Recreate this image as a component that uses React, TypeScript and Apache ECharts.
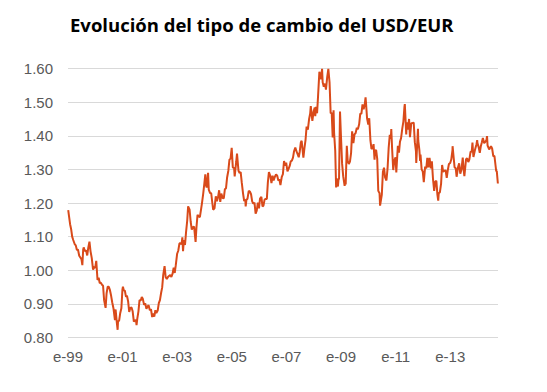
import React, { useEffect, useRef } from "react";
import * as echarts from "echarts";

const titleText = "Evolución del tipo de cambio del USD/EUR";
const yTicks = [0.8, 0.9, 1.0, 1.1, 1.2, 1.3, 1.4, 1.5, 1.6];
const xTickLabels = ["e-99", "e-01", "e-03", "e-05", "e-07", "e-09", "e-11", "e-13", "e-15"];

const dates1999_2002 = [
  "1999-01-04","1999-01-15","1999-01-29","1999-02-12","1999-02-26","1999-03-12","1999-03-31","1999-04-15","1999-04-30","1999-05-14","1999-05-31","1999-06-15","1999-06-30","1999-07-12","1999-07-23","1999-07-30","1999-08-13","1999-08-31","1999-09-15","1999-09-30","1999-10-15","1999-10-29","1999-11-15","1999-11-30","1999-12-03","1999-12-15","1999-12-31",
  "2000-01-14","2000-01-31","2000-02-15","2000-02-29","2000-03-15","2000-03-31","2000-04-14","2000-04-28","2000-05-18","2000-05-31","2000-06-15","2000-06-30","2000-07-14","2000-07-31","2000-08-15","2000-08-31","2000-09-20","2000-09-22","2000-09-29","2000-10-13","2000-10-26","2000-10-31","2000-11-15","2000-11-30","2000-12-15","2000-12-29",
  "2001-01-05","2001-01-15","2001-01-31","2001-02-15","2001-02-28","2001-03-15","2001-03-30","2001-04-13","2001-04-30","2001-05-15","2001-05-31","2001-06-15","2001-06-29","2001-07-06","2001-07-16","2001-07-31","2001-08-15","2001-08-31","2001-09-14","2001-09-28","2001-10-15","2001-10-31","2001-11-15","2001-11-30","2001-12-14","2001-12-31",
  "2002-01-15","2002-01-31","2002-02-15","2002-02-28","2002-03-15","2002-03-28","2002-04-15","2002-04-30","2002-05-15","2002-05-31","2002-06-14","2002-06-28","2002-07-16","2002-07-31","2002-08-15","2002-08-30","2002-09-13","2002-09-30","2002-10-15","2002-10-31","2002-11-15","2002-11-29","2002-12-13","2002-12-31",
];
const rates1999_2002 = [
  1.179,1.160,1.137,1.122,1.100,1.090,1.078,1.074,1.060,1.062,1.043,1.038,1.033,1.015,1.061,1.068,1.057,1.059,1.044,1.068,1.085,1.057,1.036,1.006,1.002,1.010,1.007,
  1.028,0.971,0.978,0.962,0.963,0.957,0.954,0.911,0.888,0.931,0.951,0.951,0.942,0.924,0.904,0.887,0.852,0.880,0.883,0.849,0.823,0.848,0.850,0.873,0.887,0.942,
  0.951,0.941,0.939,0.921,0.924,0.908,0.876,0.888,0.889,0.878,0.847,0.852,0.850,0.837,0.856,0.877,0.911,0.910,0.920,0.915,0.897,0.901,0.885,0.892,0.896,0.881,
  0.884,0.861,0.871,0.862,0.881,0.873,0.880,0.902,0.911,0.933,0.949,0.986,1.012,0.979,0.974,0.980,0.983,0.986,0.980,0.990,1.008,0.992,1.015,1.049,
];

const dates2003_2006 = [
  "2003-01-15","2003-01-31","2003-02-14","2003-02-28","2003-03-11","2003-03-20","2003-03-31","2003-04-15","2003-04-30","2003-05-15","2003-05-27","2003-06-16","2003-06-30","2003-07-15","2003-07-31","2003-08-15","2003-08-29","2003-09-04","2003-09-15","2003-09-30","2003-10-15","2003-10-31","2003-11-14","2003-11-28","2003-12-15","2003-12-31",
  "2004-01-12","2004-01-22","2004-01-30","2004-02-18","2004-02-27","2004-03-15","2004-03-31","2004-04-15","2004-04-26","2004-05-14","2004-05-31","2004-06-15","2004-06-30","2004-07-15","2004-07-30","2004-08-13","2004-08-31","2004-09-15","2004-09-30","2004-10-15","2004-10-29","2004-11-15","2004-11-30","2004-12-15","2004-12-30",
  "2005-01-14","2005-01-31","2005-02-08","2005-02-28","2005-03-11","2005-03-31","2005-04-15","2005-04-29","2005-05-13","2005-05-31","2005-06-15","2005-06-30","2005-07-05","2005-07-15","2005-07-29","2005-08-15","2005-08-31","2005-09-15","2005-09-30","2005-10-14","2005-10-31","2005-11-15","2005-11-30","2005-12-15","2005-12-30",
  "2006-01-13","2006-01-31","2006-02-15","2006-02-28","2006-03-15","2006-03-31","2006-04-14","2006-04-28","2006-05-12","2006-05-31","2006-06-15","2006-06-30","2006-07-14","2006-07-31","2006-08-15","2006-08-31","2006-09-15","2006-09-29","2006-10-13","2006-10-31","2006-11-15","2006-11-30","2006-12-15","2006-12-29",
];
const rates2003_2006 = [
  1.058,1.080,1.080,1.077,1.098,1.057,1.090,1.075,1.115,1.148,1.190,1.180,1.145,1.121,1.128,1.130,1.097,1.084,1.126,1.165,1.160,1.158,1.178,1.199,1.228,1.260,
  1.285,1.252,1.246,1.290,1.240,1.230,1.229,1.200,1.180,1.184,1.220,1.205,1.217,1.238,1.203,1.228,1.215,1.214,1.241,1.244,1.275,1.296,1.329,1.332,1.364,
  1.306,1.304,1.279,1.322,1.347,1.296,1.289,1.292,1.262,1.228,1.206,1.210,1.190,1.210,1.212,1.236,1.234,1.226,1.205,1.198,1.201,1.168,1.177,1.201,1.184,
  1.213,1.218,1.190,1.192,1.210,1.212,1.212,1.262,1.292,1.280,1.259,1.281,1.267,1.278,1.285,1.281,1.267,1.270,1.253,1.278,1.286,1.325,1.311,1.320,
];

const dates2007_2010 = [
  "2007-01-15","2007-01-31","2007-02-15","2007-02-28","2007-03-15","2007-03-30","2007-04-13","2007-04-30","2007-05-15","2007-05-31","2007-06-15","2007-06-29","2007-07-13","2007-07-24","2007-08-16","2007-08-31","2007-09-14","2007-09-28","2007-10-15","2007-10-31","2007-11-15","2007-11-23","2007-12-14","2007-12-31",
  "2008-01-15","2008-01-22","2008-01-31","2008-02-15","2008-02-29","2008-03-17","2008-03-31","2008-04-09","2008-04-22","2008-04-30","2008-05-15","2008-05-30","2008-06-13","2008-06-30","2008-07-15","2008-07-31","2008-08-15","2008-08-29","2008-09-11","2008-09-23","2008-09-30","2008-10-15","2008-10-27","2008-10-31","2008-11-14","2008-11-20","2008-11-28","2008-12-05","2008-12-18","2008-12-31",
  "2009-01-15","2009-01-30","2009-02-18","2009-02-27","2009-03-04","2009-03-19","2009-03-31","2009-04-15","2009-04-30","2009-05-15","2009-05-29","2009-06-15","2009-06-30","2009-07-15","2009-07-31","2009-08-14","2009-08-31","2009-09-15","2009-09-30","2009-10-15","2009-10-30","2009-11-13","2009-11-25","2009-11-30","2009-12-15","2009-12-31",
  "2010-01-13","2010-01-29","2010-02-12","2010-02-26","2010-03-12","2010-03-25","2010-03-31","2010-04-15","2010-04-30","2010-05-14","2010-05-31","2010-06-07","2010-06-30","2010-07-15","2010-07-30","2010-08-13","2010-08-31","2010-09-15","2010-09-30","2010-10-15","2010-10-29","2010-11-04","2010-11-15","2010-11-30","2010-12-15","2010-12-31",
];
const rates2007_2010 = [
  1.294,1.302,1.311,1.324,1.326,1.335,1.354,1.365,1.354,1.345,1.336,1.354,1.380,1.385,1.335,1.365,1.388,1.427,1.418,1.449,1.466,1.488,1.444,1.472,
  1.484,1.458,1.486,1.467,1.520,1.590,1.579,1.568,1.599,1.559,1.546,1.555,1.537,1.575,1.599,1.559,1.467,1.468,1.395,1.476,1.409,1.356,1.246,1.274,1.258,1.249,1.270,1.272,1.472,1.398,
  1.317,1.279,1.251,1.267,1.255,1.370,1.325,1.316,1.323,1.348,1.413,1.378,1.404,1.408,1.424,1.419,1.434,1.466,1.465,1.493,1.479,1.492,1.514,1.500,1.452,1.433,
  1.452,1.386,1.361,1.363,1.375,1.329,1.353,1.358,1.331,1.236,1.229,1.192,1.224,1.293,1.305,1.276,1.267,1.302,1.364,1.403,1.391,1.420,1.362,1.298,1.327,1.336,
];

const dates2011_2014 = [
  "2011-01-10","2011-01-31","2011-02-15","2011-02-28","2011-03-15","2011-03-31","2011-04-15","2011-04-29","2011-05-04","2011-05-23","2011-05-31","2011-06-15","2011-06-30","2011-07-12","2011-07-29","2011-08-15","2011-08-31","2011-09-15","2011-09-30","2011-10-04","2011-10-27","2011-10-31","2011-11-15","2011-11-25","2011-11-30","2011-12-15","2011-12-30",
  "2012-01-13","2012-01-31","2012-02-15","2012-02-29","2012-03-15","2012-03-30","2012-04-16","2012-04-30","2012-05-15","2012-05-31","2012-06-15","2012-06-29","2012-07-13","2012-07-24","2012-07-31","2012-08-15","2012-08-31","2012-09-14","2012-09-28","2012-10-15","2012-10-31","2012-11-15","2012-11-30","2012-12-14","2012-12-31",
  "2013-01-15","2013-01-31","2013-02-01","2013-02-15","2013-02-28","2013-03-15","2013-03-27","2013-04-15","2013-04-30","2013-05-15","2013-05-31","2013-06-17","2013-06-28","2013-07-09","2013-07-31","2013-08-15","2013-08-30","2013-09-13","2013-09-30","2013-10-15","2013-10-25","2013-10-31","2013-11-07","2013-11-29","2013-12-18","2013-12-27","2013-12-31",
  "2014-01-15","2014-01-31","2014-02-14","2014-02-28","2014-03-13","2014-03-31","2014-04-15","2014-04-30","2014-05-08","2014-05-15","2014-05-30","2014-06-05","2014-06-30","2014-07-15","2014-07-31","2014-08-15","2014-08-29","2014-09-08","2014-09-15","2014-09-30",
];
const rates2011_2014 = [
  1.291,1.370,1.350,1.382,1.393,1.421,1.443,1.486,1.494,1.404,1.440,1.418,1.450,1.396,1.437,1.438,1.439,1.381,1.354,1.319,1.421,1.386,1.357,1.325,1.344,1.300,1.294,
  1.262,1.308,1.303,1.334,1.306,1.334,1.303,1.324,1.272,1.236,1.264,1.266,1.225,1.207,1.229,1.232,1.257,1.313,1.293,1.296,1.297,1.275,1.299,1.316,1.319,
  1.330,1.358,1.369,1.336,1.306,1.304,1.278,1.306,1.318,1.287,1.300,1.335,1.301,1.280,1.330,1.333,1.322,1.329,1.353,1.352,1.380,1.358,1.337,1.359,1.375,1.387,1.378,
  1.367,1.349,1.369,1.381,1.393,1.378,1.382,1.387,1.399,1.371,1.363,1.359,1.369,1.362,1.339,1.340,1.313,1.294,1.296,1.258,
];

const allDates = [...dates1999_2002, ...dates2003_2006, ...dates2007_2010, ...dates2011_2014];
const allRates = [...rates1999_2002, ...rates2003_2006, ...rates2007_2010, ...rates2011_2014];

const START = Date.UTC(1999, 0, 1);
const YEAR_MS = 365.25 * 24 * 3600 * 1000;
function toYears(d: string): number {
  const [y, m, dd] = d.split("-").map(Number);
  return (Date.UTC(y, m - 1, dd) - START) / YEAR_MS;
}

export default function App() {
  const ref = useRef<HTMLDivElement>(null);
  useEffect(() => {
    if (!ref.current) return;
    const chart = echarts.init(ref.current, undefined, { renderer: "svg" });
    const data = allDates.map((d, i) => [toYears(d), allRates[i]]);
    const font = "'Liberation Sans', Arial, sans-serif";
    chart.setOption({
      animation: false,
      backgroundColor: "#ffffff",
      title: {
        text: titleText,
        left: 65,
        top: 10,
        textStyle: {
          fontFamily: "'Open Sans', sans-serif",
          fontWeight: "bold",
          fontSize: 18.5,
          color: "#000000",
        },
      },
      grid: { left: 68, right: 49, top: 68.5, bottom: 54.5, containLabel: false },
      xAxis: {
        type: "value",
        min: 0,
        max: 15.75,
        interval: 2,
        axisLine: { show: false },
        axisTick: { show: false },
        splitLine: { show: false },
        axisLabel: {
          margin: 11,
          fontSize: 15,
          fontFamily: font,
          color: "#595959",
          showMaxLabel: false,
          formatter: (v: number) => xTickLabels[Math.round(v / 2)] ?? "",
        },
      },
      yAxis: {
        type: "value",
        min: yTicks[0],
        max: yTicks[yTicks.length - 1],
        interval: 0.1,
        axisLine: { show: false },
        axisTick: { show: false },
        splitLine: { show: true, lineStyle: { color: "#D9D9D9", width: 1 } },
        axisLabel: {
          margin: 15,
          fontSize: 15,
          fontFamily: font,
          color: "#595959",
          formatter: (v: number) => v.toFixed(2),
        },
      },
      series: [
        {
          type: "line",
          data,
          showSymbol: false,
          symbol: "none",
          lineStyle: { color: "#D94A1A", width: 2 },
        },
      ],
    });
    return () => chart.dispose();
  }, []);
  return (
    <div
      ref={ref}
      style={{ position: "fixed", left: 0, top: 0, width: 547, height: 392, background: "#fff" }}
    />
  );
}
